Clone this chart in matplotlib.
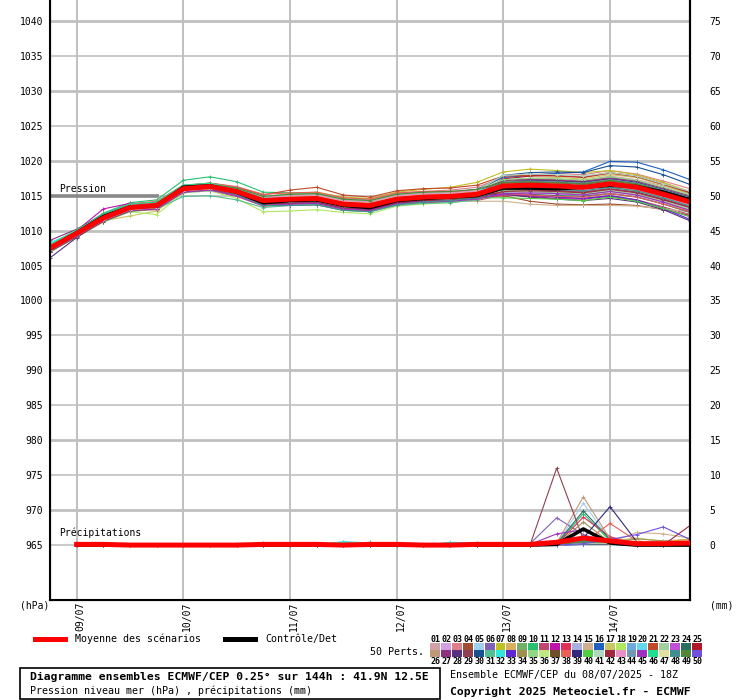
import numpy as np
import matplotlib
matplotlib.use('Agg')
from matplotlib import pyplot as plt
from matplotlib.patches import Rectangle
from matplotlib.lines import Line2D
import matplotlib.transforms as mtransforms

plt.rcParams['font.family'] = ['DejaVu Sans Mono']

# forecast hours from 08/07 18Z (run), 6h step
hours = [-6, 0, 6, 12, 18, 24, 30, 36, 42, 48, 54, 60, 66, 72, 78, 84, 90, 96,
         102, 108, 114, 120, 126, 132, 138]
precip_hours = hours[1:]
day_hours = [0, 24, 48, 72, 96, 120]
day_labels = ['09/07', '10/07', '11/07', '12/07', '13/07', '14/07']

mean_p = [1007.5, 1009.6, 1011.8, 1013.3, 1013.6, 1016.0, 1016.3, 1015.6, 1014.3, 1014.5, 1014.6, 1013.8, 1013.6,
          1014.5, 1014.8, 1014.9, 1015.2, 1016.4, 1016.5, 1016.4, 1016.2, 1016.7, 1016.2, 1015.2, 1014.1]
ctrl_p = [1007.4, 1009.7, 1012.0, 1013.4, 1013.5, 1016.2, 1016.4, 1015.5, 1014.0, 1014.3, 1014.4, 1013.6, 1013.3,
          1014.3, 1014.6, 1014.8, 1015.0, 1016.1, 1016.1, 1016.0, 1016.2, 1016.5, 1016.3, 1015.5, 1014.4]

members_p = [
    [1007.8, 1009.9, 1012.1, 1013.6, 1013.9, 1016.3, 1016.6, 1015.9, 1014.6, 1015.0, 1015.1, 1014.3, 1014.1, 1015.0, 1015.3, 1015.4, 1015.7, 1017.2, 1017.4, 1017.4, 1017.2, 1017.8, 1017.3, 1016.4, 1015.3],
    [1007.1, 1009.2, 1011.4, 1012.9, 1013.2, 1015.6, 1015.9, 1015.2, 1013.9, 1014.2, 1014.3, 1013.5, 1013.3, 1014.2, 1014.4, 1014.5, 1014.6, 1015.6, 1015.4, 1015.2, 1015.0, 1015.4, 1014.9, 1013.9, 1012.8],
    [1007.6, 1009.7, 1012.0, 1013.5, 1013.8, 1016.1, 1016.5, 1015.9, 1014.7, 1015.2, 1015.4, 1014.6, 1014.4, 1015.3, 1015.6, 1015.8, 1016.2, 1017.6, 1018.0, 1018.2, 1018.0, 1018.6, 1018.1, 1017.1, 1016.0],
    [1007.3, 1009.4, 1011.6, 1013.1, 1013.3, 1015.8, 1016.1, 1015.3, 1014.0, 1014.1, 1014.2, 1013.4, 1013.2, 1014.1, 1014.3, 1014.4, 1014.6, 1015.0, 1014.2, 1013.8, 1013.7, 1013.8, 1013.6, 1013.0, 1012.2],
    [1008.0, 1010.1, 1012.4, 1013.8, 1014.1, 1016.5, 1016.7, 1016.0, 1014.7, 1014.8, 1014.8, 1014.0, 1013.8, 1014.7, 1015.0, 1015.1, 1015.5, 1016.8, 1016.9, 1016.9, 1016.6, 1017.2, 1016.6, 1015.6, 1014.5],
    [1007.2, 1009.3, 1011.5, 1013.0, 1013.4, 1015.8, 1016.2, 1015.7, 1014.5, 1014.9, 1015.0, 1014.2, 1014.0, 1014.8, 1015.0, 1015.1, 1015.2, 1016.0, 1015.9, 1015.8, 1015.6, 1016.0, 1015.5, 1014.5, 1013.4],
    [1007.7, 1009.8, 1012.0, 1013.6, 1014.0, 1016.3, 1016.6, 1016.0, 1014.8, 1015.3, 1015.5, 1014.8, 1014.6, 1015.5, 1015.9, 1016.2, 1016.9, 1018.4, 1018.8, 1018.6, 1018.3, 1018.6, 1018.0, 1016.9, 1015.6],
    [1007.4, 1009.5, 1011.7, 1013.2, 1013.4, 1015.9, 1016.1, 1015.3, 1013.9, 1013.9, 1014.0, 1013.2, 1013.0, 1013.9, 1014.3, 1014.5, 1015.0, 1016.5, 1016.8, 1016.8, 1016.6, 1017.1, 1016.6, 1015.5, 1014.4],
    [1007.9, 1010.0, 1012.2, 1013.7, 1014.0, 1016.4, 1016.7, 1015.9, 1014.5, 1014.6, 1014.7, 1013.9, 1013.7, 1014.5, 1014.7, 1014.8, 1015.0, 1015.8, 1015.6, 1015.4, 1015.2, 1015.6, 1015.1, 1014.1, 1012.9],
    [1007.9, 1010.0, 1012.5, 1014.0, 1014.4, 1017.2, 1017.7, 1017.0, 1015.5, 1015.4, 1015.3, 1014.4, 1014.2, 1015.0, 1015.3, 1015.4, 1015.5, 1016.2, 1016.1, 1016.0, 1015.8, 1016.2, 1015.7, 1014.7, 1013.6],
    [1007.0, 1009.1, 1011.3, 1012.8, 1013.0, 1015.5, 1015.7, 1014.9, 1013.5, 1013.6, 1013.7, 1012.9, 1012.8, 1013.7, 1014.0, 1014.1, 1014.3, 1015.1, 1015.0, 1014.8, 1014.6, 1015.0, 1014.4, 1013.4, 1012.3],
    [1007.7, 1010.0, 1013.1, 1013.9, 1013.9, 1016.2, 1016.3, 1015.5, 1014.1, 1014.2, 1014.2, 1013.4, 1013.2, 1014.1, 1014.4, 1014.5, 1014.7, 1015.2, 1014.9, 1014.6, 1014.5, 1014.9, 1014.3, 1013.2, 1012.0],
    [1007.8, 1009.9, 1012.1, 1013.6, 1013.9, 1016.3, 1016.6, 1015.9, 1014.6, 1014.8, 1014.9, 1014.1, 1013.9, 1014.8, 1015.1, 1015.3, 1015.6, 1017.1, 1017.3, 1017.2, 1017.0, 1017.5, 1017.1, 1016.1, 1015.0],
    [1007.3, 1009.4, 1011.6, 1013.1, 1013.4, 1015.8, 1016.1, 1015.5, 1014.3, 1014.6, 1014.7, 1013.9, 1013.7, 1014.6, 1014.9, 1015.0, 1015.4, 1016.8, 1017.0, 1016.9, 1016.7, 1017.2, 1016.8, 1015.8, 1014.6],
    [1007.5, 1009.6, 1011.8, 1013.3, 1013.5, 1015.9, 1016.2, 1015.4, 1014.1, 1014.3, 1014.4, 1013.6, 1013.4, 1014.2, 1014.4, 1014.3, 1014.2, 1014.2, 1013.8, 1013.6, 1013.6, 1013.6, 1013.5, 1013.1, 1012.7],
    [1007.6, 1009.7, 1011.6, 1012.8, 1013.2, 1015.9, 1016.4, 1015.8, 1014.5, 1014.8, 1015.0, 1014.2, 1014.0, 1014.9, 1015.3, 1015.5, 1015.9, 1017.6, 1017.9, 1018.2, 1018.4, 1019.9, 1019.8, 1018.7, 1017.3],
    [1007.2, 1009.3, 1011.4, 1012.1, 1012.8, 1015.6, 1015.9, 1015.1, 1013.8, 1014.0, 1014.1, 1013.3, 1013.2, 1014.1, 1014.5, 1014.7, 1015.1, 1017.0, 1017.5, 1017.6, 1017.4, 1018.0, 1017.6, 1016.5, 1015.2],
    [1007.1, 1009.2, 1011.3, 1012.7, 1012.3, 1015.4, 1015.7, 1014.6, 1012.7, 1012.8, 1013.0, 1012.6, 1012.4, 1013.5, 1013.8, 1014.0, 1014.4, 1015.6, 1015.7, 1015.6, 1015.4, 1016.0, 1015.4, 1014.3, 1013.0],
    [1007.7, 1009.8, 1012.0, 1013.5, 1013.8, 1016.2, 1016.6, 1016.0, 1014.8, 1015.1, 1015.2, 1014.4, 1014.2, 1015.1, 1015.4, 1015.5, 1015.8, 1016.5, 1016.4, 1016.2, 1016.0, 1016.5, 1016.0, 1014.9, 1013.8],
    [1007.4, 1009.5, 1011.7, 1013.2, 1013.5, 1015.9, 1016.2, 1015.4, 1014.0, 1014.2, 1014.3, 1013.5, 1013.3, 1014.2, 1014.5, 1014.6, 1014.9, 1016.4, 1016.6, 1016.5, 1016.3, 1016.8, 1016.3, 1015.3, 1014.2],
    [1007.8, 1009.9, 1012.1, 1013.7, 1014.0, 1016.4, 1016.8, 1016.2, 1015.1, 1015.8, 1016.2, 1015.1, 1014.8, 1015.7, 1016.0, 1016.1, 1016.5, 1017.8, 1017.9, 1017.8, 1017.6, 1018.2, 1017.7, 1016.6, 1015.4],
    [1006.9, 1009.1, 1011.2, 1012.7, 1013.1, 1015.4, 1015.7, 1015.1, 1013.9, 1014.1, 1014.2, 1013.4, 1013.2, 1014.1, 1014.4, 1014.5, 1014.7, 1015.6, 1015.6, 1015.5, 1015.3, 1015.8, 1015.2, 1014.2, 1013.1],
    [1007.9, 1010.0, 1012.2, 1013.7, 1014.0, 1016.4, 1016.6, 1015.8, 1014.4, 1014.4, 1014.5, 1013.7, 1013.5, 1014.4, 1014.7, 1014.8, 1015.2, 1016.9, 1017.1, 1017.0, 1016.8, 1017.4, 1016.9, 1015.8, 1014.7],
    [1007.3, 1009.4, 1011.6, 1013.1, 1013.4, 1015.8, 1016.1, 1015.6, 1014.5, 1015.0, 1015.1, 1014.3, 1014.1, 1014.9, 1015.1, 1015.1, 1015.3, 1015.4, 1015.2, 1015.0, 1014.9, 1015.3, 1014.8, 1013.8, 1012.6],
    [1007.6, 1009.7, 1011.9, 1013.4, 1013.6, 1016.0, 1016.2, 1015.3, 1013.8, 1013.8, 1013.9, 1013.1, 1012.9, 1013.9, 1014.3, 1014.6, 1015.1, 1017.4, 1017.8, 1017.9, 1017.7, 1018.3, 1017.8, 1016.7, 1015.5],
    [1007.1, 1009.2, 1011.4, 1012.9, 1013.2, 1015.6, 1015.9, 1015.3, 1014.2, 1014.7, 1014.8, 1014.0, 1013.8, 1014.7, 1015.0, 1015.1, 1015.4, 1016.1, 1016.1, 1016.0, 1015.8, 1016.3, 1015.7, 1014.7, 1013.6],
    [1008.6, 1010.2, 1012.3, 1013.8, 1014.0, 1016.4, 1016.7, 1016.0, 1014.7, 1014.9, 1015.0, 1014.2, 1014.0, 1014.9, 1015.2, 1015.3, 1015.7, 1017.2, 1017.4, 1017.3, 1017.1, 1017.6, 1017.1, 1016.1, 1015.0],
    [1006.1, 1009.0, 1011.5, 1013.0, 1013.3, 1015.7, 1016.0, 1015.3, 1014.1, 1014.6, 1014.7, 1013.9, 1013.7, 1014.6, 1014.9, 1015.0, 1015.2, 1015.2, 1014.8, 1014.5, 1014.3, 1014.6, 1014.1, 1013.0, 1011.4],
    [1007.5, 1009.6, 1011.8, 1013.3, 1013.6, 1016.0, 1016.3, 1015.7, 1014.5, 1014.8, 1014.9, 1014.1, 1013.9, 1014.8, 1015.1, 1015.2, 1015.4, 1015.9, 1015.8, 1015.7, 1015.5, 1016.0, 1015.5, 1014.5, 1013.3],
    [1007.7, 1009.8, 1012.0, 1013.5, 1013.7, 1016.1, 1016.4, 1015.6, 1014.2, 1014.3, 1014.4, 1013.6, 1013.4, 1014.3, 1014.7, 1014.9, 1015.5, 1017.9, 1018.3, 1018.4, 1018.3, 1019.3, 1019.1, 1018.0, 1016.6],
    [1007.2, 1009.3, 1011.4, 1012.9, 1013.1, 1014.9, 1015.0, 1014.4, 1013.3, 1013.6, 1013.7, 1012.9, 1012.7, 1013.6, 1013.9, 1014.0, 1014.4, 1016.5, 1016.7, 1016.6, 1016.4, 1016.9, 1016.4, 1015.4, 1014.3],
    [1008.3, 1009.8, 1011.9, 1013.4, 1013.7, 1016.1, 1016.5, 1016.0, 1014.9, 1015.2, 1015.3, 1014.5, 1014.3, 1015.2, 1015.5, 1015.6, 1015.8, 1016.3, 1016.2, 1016.1, 1015.9, 1016.4, 1015.9, 1014.9, 1013.8],
    [1007.3, 1009.4, 1011.6, 1013.1, 1013.4, 1015.8, 1016.1, 1015.3, 1013.9, 1014.0, 1014.1, 1013.3, 1013.1, 1014.0, 1014.3, 1014.4, 1014.6, 1015.3, 1015.1, 1014.8, 1014.6, 1015.0, 1014.4, 1013.2, 1011.6],
    [1007.6, 1009.7, 1011.9, 1013.4, 1013.7, 1016.1, 1016.4, 1015.7, 1014.4, 1014.7, 1014.8, 1014.0, 1013.8, 1014.7, 1015.0, 1015.1, 1015.4, 1016.6, 1016.7, 1016.6, 1016.4, 1016.9, 1016.4, 1015.4, 1014.3],
    [1007.4, 1009.5, 1011.7, 1013.2, 1013.5, 1015.9, 1016.3, 1015.8, 1014.7, 1015.1, 1015.2, 1014.4, 1014.2, 1015.1, 1015.4, 1015.5, 1015.8, 1017.3, 1017.5, 1017.4, 1017.2, 1017.7, 1017.2, 1016.2, 1015.1],
    [1007.8, 1009.9, 1012.1, 1013.6, 1013.9, 1016.3, 1016.5, 1015.7, 1014.2, 1014.1, 1014.2, 1013.4, 1013.2, 1014.1, 1014.4, 1014.5, 1014.8, 1016.1, 1016.2, 1016.1, 1015.9, 1016.4, 1015.9, 1014.9, 1013.8],
    [1007.0, 1009.1, 1011.3, 1012.8, 1013.1, 1015.5, 1015.8, 1015.2, 1014.0, 1014.4, 1014.5, 1013.7, 1013.5, 1014.4, 1014.7, 1014.8, 1015.1, 1016.8, 1016.9, 1016.8, 1016.6, 1017.1, 1016.6, 1015.6, 1014.5],
    [1007.9, 1010.0, 1012.2, 1013.8, 1014.2, 1016.5, 1016.8, 1016.3, 1015.2, 1015.4, 1015.5, 1014.7, 1014.5, 1015.4, 1015.6, 1015.6, 1015.7, 1015.3, 1015.1, 1014.9, 1014.8, 1015.3, 1014.8, 1013.8, 1012.7],
    [1007.5, 1009.6, 1011.8, 1013.3, 1013.6, 1016.0, 1016.3, 1015.5, 1014.1, 1014.2, 1014.3, 1013.5, 1013.3, 1014.2, 1014.5, 1014.6, 1015.0, 1017.0, 1017.2, 1017.1, 1016.9, 1017.4, 1016.9, 1015.9, 1014.8],
    [1007.2, 1009.3, 1011.5, 1013.0, 1013.3, 1015.7, 1016.0, 1015.3, 1014.0, 1014.3, 1014.4, 1013.6, 1013.4, 1014.3, 1014.6, 1014.6, 1014.7, 1014.7, 1014.6, 1014.5, 1014.3, 1014.8, 1014.2, 1013.2, 1012.0],
    [1007.7, 1009.8, 1012.0, 1013.5, 1013.8, 1016.2, 1016.5, 1015.9, 1014.7, 1014.9, 1015.0, 1014.2, 1014.0, 1014.9, 1015.2, 1015.3, 1015.7, 1017.9, 1018.1, 1018.0, 1017.8, 1018.3, 1017.8, 1016.7, 1015.6],
    [1007.3, 1009.4, 1011.6, 1013.1, 1013.3, 1015.7, 1016.0, 1015.2, 1013.8, 1013.9, 1014.0, 1013.2, 1013.0, 1014.0, 1014.3, 1014.4, 1014.7, 1015.6, 1015.7, 1015.6, 1015.4, 1015.9, 1015.4, 1014.4, 1013.3],
    [1007.8, 1009.9, 1012.1, 1013.6, 1013.9, 1016.3, 1016.7, 1016.1, 1014.8, 1015.0, 1015.1, 1014.3, 1014.1, 1015.0, 1015.3, 1015.4, 1015.7, 1016.0, 1016.1, 1016.0, 1015.8, 1016.3, 1015.8, 1014.8, 1013.7],
    [1007.4, 1009.5, 1011.7, 1013.2, 1013.5, 1015.9, 1016.2, 1015.5, 1014.2, 1014.5, 1014.6, 1013.8, 1013.6, 1014.5, 1014.8, 1014.9, 1015.3, 1017.0, 1017.1, 1017.0, 1016.8, 1017.3, 1016.8, 1015.8, 1014.7],
    [1007.1, 1009.2, 1011.4, 1012.9, 1013.1, 1015.5, 1015.8, 1015.0, 1013.6, 1013.8, 1013.9, 1013.1, 1012.9, 1013.8, 1014.1, 1014.2, 1014.5, 1015.3, 1015.4, 1015.3, 1015.1, 1015.6, 1015.1, 1014.1, 1012.9],
    [1008.0, 1010.1, 1012.3, 1013.8, 1014.1, 1016.5, 1016.8, 1016.0, 1014.6, 1014.6, 1014.7, 1013.9, 1013.7, 1014.6, 1014.9, 1015.0, 1015.4, 1016.7, 1016.8, 1016.7, 1016.5, 1017.0, 1016.5, 1015.5, 1014.4],
    [1007.2, 1009.3, 1011.5, 1013.0, 1013.3, 1015.7, 1016.0, 1015.5, 1014.4, 1014.8, 1014.9, 1014.1, 1013.9, 1014.8, 1015.1, 1015.2, 1015.5, 1016.6, 1016.7, 1016.6, 1016.4, 1016.9, 1016.4, 1015.4, 1014.3],
    [1007.5, 1009.6, 1011.8, 1013.3, 1013.5, 1015.9, 1016.1, 1015.2, 1013.6, 1013.6, 1013.7, 1012.9, 1012.7, 1013.7, 1014.1, 1014.3, 1014.7, 1016.0, 1016.0, 1015.9, 1015.7, 1016.2, 1015.7, 1014.7, 1013.5],
    [1007.7, 1009.8, 1012.0, 1013.5, 1013.9, 1016.3, 1016.6, 1016.1, 1014.9, 1015.2, 1015.3, 1014.5, 1014.3, 1015.2, 1015.5, 1015.6, 1015.9, 1016.9, 1017.0, 1016.9, 1016.7, 1017.2, 1016.7, 1015.7, 1014.6],
    [1007.3, 1009.4, 1011.6, 1013.1, 1013.4, 1015.8, 1016.1, 1015.4, 1014.1, 1014.4, 1014.5, 1013.7, 1013.5, 1014.4, 1014.7, 1014.8, 1015.1, 1016.3, 1016.4, 1016.3, 1016.1, 1016.6, 1016.1, 1015.1, 1014.0],
]

# 6h precipitation (mm), from 09/07 00Z
mean_rr = [0.1, 0.1, 0.0, 0.0, 0.0, 0.0, 0.0, 0.1, 0.1, 0.1, 0.0, 0.1, 0.1, 0.0, 0.0, 0.1, 0.1, 0.1, 0.4, 1.0, 0.6, 0.2, 0.2, 0.3]
ctrl_rr = [0.0, 0.0, 0.0, 0.0, 0.0, 0.0, 0.0, 0.0, 0.0, 0.0, 0.0, 0.0, 0.0, 0.0, 0.0, 0.0, 0.0, 0.0, 0.1, 2.3, 0.3, 0.0, 0.0, 0.0]

members_rr = [
    [0.3, 0.1, 0, 0, 0, 0, 0.1, 0, 0, 0, 0, 0, 0, 0, 0, 0.1, 0, 0, 0, 0.5, 0.4, 0.2, 0.1, 0.3],
    [0, 0, 0, 0, 0, 0, 0, 0, 0, 0, 0, 0, 0, 0, 0, 0, 0, 0, 0.1, 0.8, 0.6, 0.1, 0.3, 0.2],
    [0, 0, 0, 0, 0, 0, 0, 0, 0, 0, 0, 0, 0, 0, 0, 0, 0, 0.1, 0, 0.3, 0.2, 0.4, 0.6, 0.8],
    [0, 0, 0, 0, 0, 0, 0, 0, 0, 0, 0, 0, 0, 0, 0, 0, 0, 0, 0.2, 0.9, 0.9, 0.3, 0.1, 0.2],
    [0, 0, 0, 0, 0, 0, 0, 0, 0, 0, 0, 0, 0, 0, 0, 0, 0, 0, 0.1, 6.0, 0.7, 0.1, 0, 0.2],
    [0, 0, 0, 0, 0, 0, 0, 0, 0, 0, 0, 0, 0, 0, 0, 0, 0, 0.2, 3.9, 1.5, 0.3, 0.1, 0, 0],
    [0, 0, 0, 0, 0, 0, 0, 0, 0, 0, 0, 0, 0, 0, 0, 0, 0, 0, 0, 0.6, 0.5, 0.2, 0.4, 0.9],
    [0, 0, 0, 0, 0, 0, 0, 0, 0, 0, 0, 0, 0, 0, 0, 0, 0, 0, 0, 0.4, 0.3, 0, 0.1, 0.3],
    [0, 0, 0, 0, 0, 0, 0, 0, 0, 0, 0.4, 0.2, 0, 0, 0, 0.1, 0, 0, 0.2, 0.5, 0.4, 0.2, 0, 0.1],
    [0, 0, 0, 0, 0, 0, 0, 0.1, 0.2, 0, 0, 0.4, 0, 0, 0.3, 0.1, 0, 0, 0.1, 4.5, 0.6, 0.1, 0.2, 0.2],
    [0, 0, 0, 0, 0, 0, 0, 0, 0, 0, 0, 0, 0, 0, 0, 0, 0, 0, 0, 0.2, 0.3, 0, 0, 0.1],
    [0.2, 0, 0, 0, 0, 0, 0, 0, 0, 0, 0, 0, 0, 0, 0.1, 0.2, 0, 0.1, 0.3, 0.7, 0.5, 0.2, 0.1, 0],
    [0, 0, 0, 0, 0, 0, 0, 0, 0, 0, 0, 0, 0, 0, 0, 0, 0, 0, 0.1, 4.0, 1.2, 0.2, 0.1, 0.3],
    [0, 0, 0, 0, 0, 0, 0, 0, 0, 0, 0, 0, 0, 0, 0, 0, 0, 0, 0, 0.2, 0.2, 0, 0.1, 0],
    [0, 0, 0, 0, 0, 0, 0, 0, 0, 0, 0, 0, 0, 0, 0, 0, 0, 0, 0, 0.3, 0.4, 1.8, 1.6, 1.0],
    [0, 0, 0, 0, 0, 0, 0, 0, 0, 0, 0, 0, 0, 0, 0, 0, 0, 0, 0, 0.1, 0.1, 0, 0, 0],
    [0, 0, 0, 0, 0, 0, 0, 0, 0, 0, 0, 0, 0, 0, 0, 0, 0, 0, 0.1, 0.6, 0.6, 1.0, 0.5, 0.4],
    [0, 0, 0, 0, 0, 0, 0, 0, 0, 0, 0, 0, 0, 0, 0, 0, 0, 0, 0.2, 1.2, 0.8, 0.2, 0, 0.2],
    [0, 0, 0, 0, 0, 0, 0, 0, 0, 0, 0, 0, 0, 0, 0, 0, 0, 0, 0, 0.2, 0.2, 0.1, 0, 0],
    [0, 0, 0, 0, 0, 0, 0, 0, 0, 0, 0, 0.3, 0, 0, 0, 0, 0, 0, 0, 0.3, 0.3, 0, 0.2, 0.4],
    [0, 0, 0, 0, 0, 0, 0, 0, 0, 0, 0, 0, 0, 0, 0, 0, 0, 0, 0.1, 0.5, 0.5, 0, 0, 0],
    [0, 0, 0, 0, 0, 0, 0, 0, 0, 0, 0, 0, 0, 0, 0, 0, 0, 0, 0, 0.4, 0.4, 0.3, 0.2, 0.1],
    [0, 0, 0, 0, 0, 0, 0, 0, 0, 0, 0, 0, 0, 0, 0, 0, 0, 0, 0.4, 0.6, 0.4, 0.1, 0.2, 0.2],
    [0, 0, 0, 0, 0, 0, 0, 0, 0, 0, 0, 0, 0, 0, 0, 0, 0, 0, 0.2, 4.9, 0.8, 0, 0.1, 0],
    [0, 0, 0, 0, 0, 0, 0, 0, 0, 0, 0, 0, 0, 0, 0, 0, 0, 0, 0, 0.3, 0.6, 0.2, 0, 0.3],
    [0, 0, 0, 0, 0, 0, 0, 0, 0, 0, 0, 0, 0, 0, 0, 0, 0, 0, 0.3, 6.9, 0.9, 0.2, 0, 0.1],
    [0, 0, 0, 0, 0, 0, 0, 0, 0, 0, 0, 0, 0, 0, 0, 0, 0, 0, 0.1, 0.4, 0.3, 0.1, 0, 0],
    [0, 0, 0, 0, 0, 0, 0, 0, 0, 0, 0, 0, 0, 0, 0, 0, 0, 0, 0, 0.2, 0.1, 0, 0.1, 0.2],
    [0, 0, 0, 0, 0, 0, 0, 0, 0, 0, 0, 0, 0, 0, 0, 0, 0, 0, 11.0, 0.8, 0.2, 0, 0, 0.1],
    [0, 0, 0, 0, 0, 0, 0, 0, 0, 0, 0, 0, 0, 0, 0, 0, 0, 0, 0, 0.1, 0.2, 0, 0, 0],
    [0, 0, 0, 0, 0, 0, 0, 0.3, 0.2, 0, 0, 0.2, 0, 0, 0.1, 0.3, 0, 0, 0.1, 0.7, 0.5, 0.1, 0, 0],
    [0, 0, 0, 0, 0, 0, 0, 0, 0, 0, 0.5, 0.3, 0, 0, 0.4, 0.3, 0, 0, 0, 0.5, 0.3, 0.2, 0.3, 0.1],
    [0, 0, 0, 0, 0, 0, 0, 0, 0, 0, 0, 0, 0, 0, 0, 0, 0, 0, 0.2, 0.3, 0.7, 0.1, 0, 0],
    [0, 0, 0, 0, 0, 0, 0, 0, 0, 0, 0, 0, 0, 0, 0, 0, 0, 0, 0.1, 3.3, 0.4, 0.9, 0.6, 0.3],
    [0, 0, 0, 0, 0, 0, 0, 0.2, 0, 0, 0, 0, 0, 0.2, 0.2, 0.2, 0, 0, 0.2, 0.6, 0.5, 0.2, 0.1, 0.2],
    [0, 0, 0, 0, 0, 0, 0, 0, 0, 0, 0, 0, 0, 0, 0, 0, 0, 0, 0, 0.4, 0.3, 0.3, 0.4, 0.5],
    [0, 0, 0, 0, 0, 0, 0, 0, 0, 0, 0, 0, 0, 0, 0, 0, 0, 0, 0.1, 0.2, 0.2, 0, 0, 0.1],
    [0, 0, 0, 0, 0, 0, 0, 0, 0, 0, 0, 0, 0, 0, 0, 0, 0, 0, 0.2, 0.3, 3.1, 0.6, 0.2, 0.1],
    [0, 0, 0, 0, 0, 0, 0, 0, 0, 0, 0, 0, 0, 0, 0, 0, 0, 0, 0, 1.0, 5.5, 0.5, 0, 0],
    [0, 0, 0, 0, 0, 0, 0, 0, 0, 0, 0, 0, 0, 0, 0, 0, 0, 0, 0.2, 0.5, 0.4, 0.1, 0, 0],
    [0, 0, 0, 0, 0, 0, 0, 0, 0, 0, 0, 0, 0, 0, 0, 0, 0, 0, 0, 0.2, 0.2, 0, 0, 0.1],
    [0, 0, 0, 0, 0, 0, 0, 0, 0, 0, 0, 0, 0, 0, 0, 0, 0, 0, 0.1, 0.3, 0.4, 0.2, 0, 2.8],
    [0, 0, 0, 0, 0, 0, 0, 0, 0, 0, 0, 0, 0, 0, 0, 0, 0, 0, 0, 0.4, 0.5, 0.3, 0.2, 0.3],
    [0, 0, 0, 0, 0, 0, 0, 0, 0, 0, 0, 0, 0, 0, 0, 0, 0, 0, 0, 0.2, 0.3, 0, 0, 0],
    [0, 0, 0, 0, 0, 0, 0, 0, 0, 0, 0, 0, 0, 0, 0, 0, 0, 0.1, 1.6, 2.2, 0.6, 0.2, 0.1, 0],
    [0, 0, 0, 0, 0, 0, 0, 0, 0, 0, 0, 0, 0, 0, 0, 0, 0, 0, 0.1, 0.6, 0.6, 0.1, 0, 0.2],
    [0, 0, 0, 0, 0, 0, 0, 0, 0, 0, 0, 0, 0, 0, 0, 0, 0, 0, 0, 0.3, 0.3, 0.6, 0.3, 0.4],
    [0, 0, 0, 0, 0, 0, 0, 0, 0, 0, 0, 0, 0, 0, 0, 0, 0, 0, 0.2, 0.5, 0.4, 0.1, 0.1, 0],
    [0, 0, 0, 0, 0, 0, 0, 0, 0, 0, 0, 0, 0, 0, 0, 0, 0, 0, 0.1, 0.4, 0.5, 0.2, 0, 0.1],
    [0, 0, 0, 0, 0, 0, 0, 0, 0, 0, 0, 0, 0, 0, 0, 0, 0, 0, 0, 0.2, 0.8, 1.5, 2.6, 0.8],
]

member_colors = ['#d4a0a8', '#d0a0e0', '#e08088', '#a05030', '#a0d0f0', '#8060b8', '#c0c020', '#d8b060',
                 '#70b068', '#28c070', '#c04870', '#c010b0', '#e03058', '#a8b0e0', '#d0b090', '#2060c0',
                 '#c8c860', '#b0e860', '#70a8e0', '#60d8f0', '#c04828', '#a0d0a0', '#c050d8', '#287060',
                 '#b01828', '#c09878', '#903080', '#583080', '#904050', '#185090', '#50c090', '#30e8e0',
                 '#6028d0', '#a09050', '#90d888', '#c0e880', '#705028', '#e86058', '#302878', '#50d040',
                 '#b0d8c0', '#a02840', '#e890c8', '#7098b0', '#a030c0', '#20e090', '#e0e0a0', '#409090',
                 '#508838', '#7050e0']

W, H = 740, 700
fig = plt.figure(figsize=(W / 100, H / 100), dpi=100)
ax = fig.add_axes([50 / W, 100 / H, 640 / W, 600 / H])
ax.set_xlim(-6, 138)
ax.set_ylim(957.14, 1043.0)

#%% grid
for p in range(965, 1041, 5):
    ax.axhline(p, color='#c0c0c0', lw=2.0 if p % 10 == 0 else 1.2, zorder=0)
for d in day_hours:
    ax.axvline(d, color='#c0c0c0', lw=1.4, zorder=0)
ax.plot([-6, 18], [1015, 1015], color='#888888', lw=2.6, zorder=1)

#%% pressure
for k in range(50):
    ax.plot(hours, members_p[k], color=member_colors[k], lw=0.8, marker='+', ms=3, mew=0.6, zorder=2)
ax.plot(hours, ctrl_p, color='black', lw=2.6, zorder=3)
ax.plot(hours, mean_p, color='red', lw=3.6, zorder=4)

ax.set_yticks(range(965, 1041, 5))
ax.tick_params(axis='y', length=0, labelsize=7, pad=5)
ax.set_xticks([])
for s in ['left', 'bottom', 'right']:
    ax.spines[s].set_linewidth(1.5)
ax.spines['top'].set_visible(False)

ax.text(-4, 1016.0, 'Pression', fontsize=7, va='center')
ax.text(-4, 966.7, 'Précipitations', fontsize=7, va='center')

# dates under the axis
trans = mtransforms.offset_copy(ax.get_xaxis_transform(), fig=fig, x=4, y=-2, units='dots')
for d, lab in zip(day_hours, day_labels):
    ax.text(d, 0, lab, rotation=90, ha='center', va='top', fontsize=7, transform=trans)

#%% precipitation on the right scale
ax2 = ax.twinx()
ax2.set_ylim(957.14 - 965, 1043.0 - 965)
for k in range(50):
    ax2.plot(precip_hours, members_rr[k], color=member_colors[k], lw=0.8, marker='+', ms=3, mew=0.6, zorder=2)
ax2.plot(precip_hours, ctrl_rr, color='black', lw=2.6, zorder=3)
ax2.plot(precip_hours, mean_rr, color='red', lw=3.6, zorder=4)
ax2.set_yticks(range(0, 76, 5))
ax2.tick_params(axis='y', length=0, labelsize=7, pad=14)
ax2.spines['top'].set_visible(False)
ax2.spines['right'].set_linewidth(1.5)

fig.text(20 / W, 1 - 606 / H, '(hPa)', fontsize=7, va='center')
fig.text(710 / W, 1 - 606 / H, '(mm)', fontsize=7, va='center')

#%% legend
fig.add_artist(Line2D([35 / W, 65 / W], [1 - 639 / H] * 2, color='red', lw=3.6))
fig.text(75 / W, 1 - 639 / H, 'Moyenne des scénarios', fontsize=7.2, va='center')
fig.add_artist(Line2D([225 / W, 255 / W], [1 - 639 / H] * 2, color='black', lw=3.6))
fig.text(265 / W, 1 - 639 / H, 'Contrôle/Det', fontsize=7.2, va='center')

fig.text(370 / W, 1 - 652 / H, '50 Perts.', fontsize=7.2, va='center')
bw = 273 / 25
for k in range(50):
    col, row = k % 25, k // 25
    x0 = 430 + col * bw
    y0 = 643 + row * 7
    fig.add_artist(Rectangle((x0 / W, 1 - (y0 + 7) / H), (bw - 1) / W, 7 / H,
                             transform=fig.transFigure, facecolor=member_colors[k], edgecolor='none'))
    ty = 639 if row == 0 else 662
    fig.text((x0 + bw / 2) / W, 1 - ty / H, '%02d' % (k + 1), fontsize=6, fontweight='bold',
             ha='center', va='center')

#%% title box
fig.add_artist(Rectangle((20 / W, 1 - 699 / H), 420 / W, 31 / H, transform=fig.transFigure,
                         facecolor='none', edgecolor='black', lw=1.2))
fig.text(30 / W, 1 - 677 / H, 'Diagramme ensembles ECMWF/CEP 0.25° sur 144h : 41.9N 12.5E',
         fontsize=8.2, fontweight='bold', va='center')
fig.text(30 / W, 1 - 691 / H, 'Pression niveau mer (hPa) , précipitations (mm)', fontsize=7.2, va='center')
fig.text(450 / W, 1 - 675 / H, 'Ensemble ECMWF/CEP du 08/07/2025 - 18Z', fontsize=7.2, va='center')
fig.text(450 / W, 1 - 692 / H, 'Copyright 2025 Meteociel.fr - ECMWF', fontsize=8.2, fontweight='bold',
         va='center')

fig.savefig('out.png', dpi=100)
